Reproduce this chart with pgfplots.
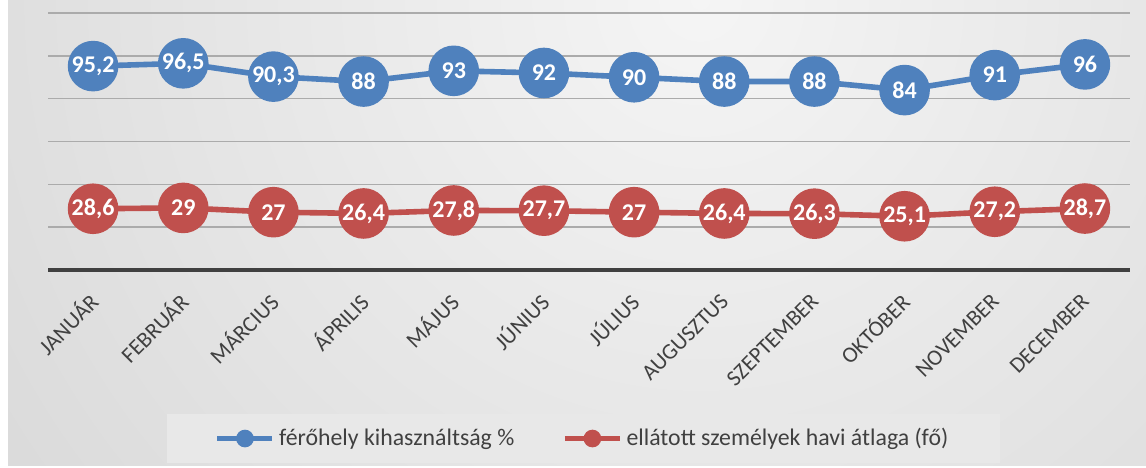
\documentclass[border=0pt]{standalone}
\usepackage{fontspec}
\setmainfont{Carlito}
\usepackage{pgfplots}
\pgfplotsset{compat=1.18}
\definecolor{cblue}{HTML}{4F81BD}
\definecolor{cred}{HTML}{C0504D}
\definecolor{ctext}{HTML}{404040}
\definecolor{cgrid}{HTML}{ABABAB}
\begin{document}
\begin{tikzpicture}
\useasboundingbox (0,0) rectangle (573pt,233.5pt);
\fill[white] (0,0) rectangle (573pt,233.5pt);
\begin{scope}
\clip (4pt,1pt) rectangle (573pt,233.5pt);
\shade[inner color=white!96!black, outer color=white!75!black] (350pt,233.5pt) circle (850pt);
\end{scope}
\begin{axis}[
  at={(24pt,98.5pt)}, anchor=south west,
  scale only axis, width=541pt, height=128.5pt,
  xmin=-0.5, xmax=11.5, ymin=0, ymax=120,
  axis line style={draw=none},
  major tick length=0pt,
  ytick={20,40,...,120}, yticklabels={,,},
  ymajorgrids, major grid style={cgrid, line width=0.8pt},
  xtick={0,...,11},
  xticklabels={JANUÁR,FEBRUÁR,MÁRCIUS,ÁPRILIS,MÁJUS,JÚNIUS,JÚLIUS,AUGUSZTUS,SZEPTEMBER,OKTÓBER,NOVEMBER,DECEMBER},
  xticklabel style={yshift=-13pt, xshift=1pt, rotate=45, anchor=east, inner sep=1pt, text=ctext, font=\fontsize{11.2}{12}\selectfont},
  /pgf/number format/use comma,
  /pgf/number format/assume math mode=true,
  clip=false,
  legend style={at={(0.495,-0.56)}, anchor=north, legend columns=2, fill=white!91!black, draw=none,
    font=\fontsize{11.9}{13}\selectfont, text=ctext, inner xsep=24pt, inner ysep=5pt,
    /tikz/every even column/.append style={column sep=22pt}},
  legend image code/.code={\draw[#1, mark=none, line width=2.6pt] (0pt,0pt) -- (27.5pt,0pt); \fill[#1] (13.75pt,0pt) circle (3pt);},
  nodes near coords,
  every node near coord/.append style={anchor=center, text=white, font=\bfseries\fontsize{12}{12}\selectfont},
]
\draw[ctext, line width=1.7pt] (rel axis cs:0,0) -- (rel axis cs:1,0);
\addplot[cblue, line width=2.8pt, mark=*, mark size=11.25pt, mark options={fill=cblue, draw=cblue}]
  coordinates {(0,95.2) (1,96.5) (2,90.3) (3,88) (4,93) (5,92) (6,90) (7,88) (8,88) (9,84) (10,91) (11,96)};
\addlegendentry{férőhely kihasználtság \%}
\addplot[cred, line width=2.8pt, mark=*, mark size=11.25pt, mark options={fill=cred, draw=cred}]
  coordinates {(0,28.6) (1,29) (2,27) (3,26.4) (4,27.8) (5,27.7) (6,27) (7,26.4) (8,26.3) (9,25.1) (10,27.2) (11,28.7)};
\addlegendentry{ellátott személyek havi átlaga (fő)}
\end{axis}
\end{tikzpicture}
\end{document}
